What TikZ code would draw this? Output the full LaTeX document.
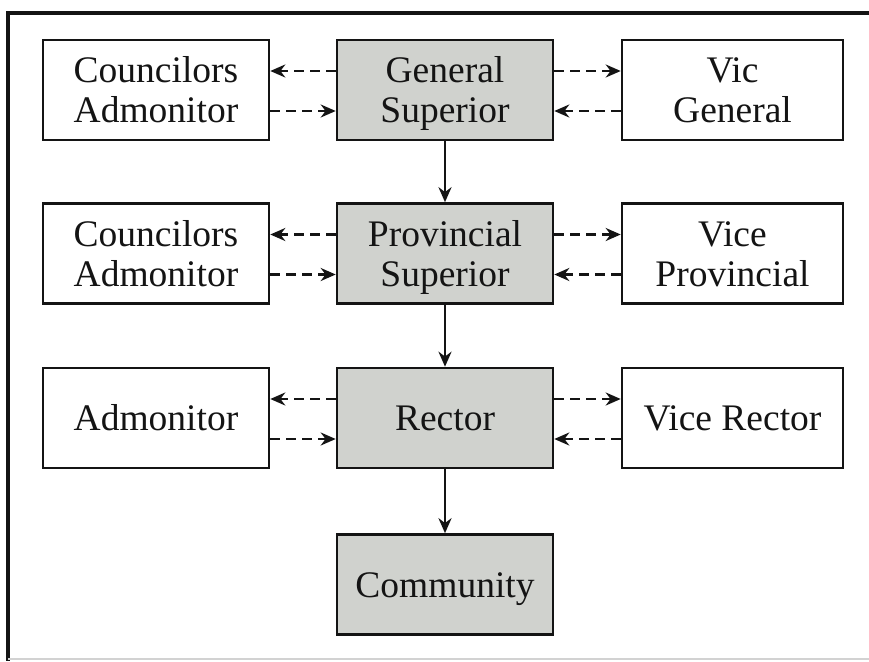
\documentclass[tikz,border=0pt]{standalone}
\usepackage{fontspec}
\setmainfont{Liberation Serif}
\usetikzlibrary{arrows.meta}
\definecolor{boxgray}{RGB}{208,210,206}
\definecolor{ink}{RGB}{20,20,20}
\newcommand{\tallstrut}{\rule{0pt}{37pt}}
\begin{document}
\begin{tikzpicture}[x=1pt,y=-1pt,
  box/.style={draw=ink,line width=2.6pt,rectangle,minimum height=100pt,inner sep=0pt,align=center,
    font=\fontsize{37.5}{40}\selectfont,text=ink},
  side/.style={box,fill=white},
  mid/.style={box,fill=boxgray,minimum width=216pt},
  dasharrow/.style={draw=ink,line width=2.4pt,dash pattern=on 10pt off 6pt,-{Stealth[length=15pt,width=13pt]}},
  downarrow/.style={draw=ink,line width=2.4pt,-{Stealth[length=15pt,width=13pt]}},
  frameline/.style={draw=ink,line width=4.5pt}]
\useasboundingbox (0,0) rectangle (869,661);
\fill[white] (0,0) rectangle (869,661);
% frame
\coordinate (ftl) at (8,13);
\coordinate (ftr) at (869,13);
\coordinate (fbl) at (8,661);
\coordinate (fbr) at (869,659);
\draw[frameline] (ftr) -- (ftl) -- (fbl);
\draw[draw=gray!35,line width=2pt] (8,659) -- (fbr);
% row 1
\node[side,minimum width=226pt] (ca1) at (156,90) {\tallstrut Councilors\\\strut Admonitor};
\node[mid] (gs) at (445,90) {\tallstrut General\\\strut Superior};
\node[side,minimum width=221pt] (vg) at (732.5,90) {\tallstrut Vic\\\strut General};
% row 2
\node[side,minimum width=226pt] (ca2) at (156,253.5) {\tallstrut Councilors\\\strut Admonitor};
\node[mid] (ps) at (445,253.5) {\tallstrut Provincial\\\strut Superior};
\node[side,minimum width=221pt] (vp) at (732.5,253.5) {\tallstrut Vice\\\strut Provincial};
% row 3
\node[side,minimum width=226pt] (ad) at (156,418) {\tallstrut\strut Admonitor};
\node[mid] (rc) at (445,418) {\tallstrut\strut Rector};
\node[side,minimum width=221pt] (vr) at (732.5,418) {\tallstrut\strut Vice Rector};
% row 4
\node[mid] (cm) at (445,584.5) {\tallstrut\strut Community};
% dashed connectors
\foreach \l/\c/\r in {ca1/gs/vg, ca2/ps/vp, ad/rc/vr}{
  \draw[dasharrow] ([yshift=19pt]\c.west) -- ([yshift=19pt]\l.east);
  \draw[dasharrow] ([yshift=-21pt]\l.east) -- ([yshift=-21pt]\c.west);
  \draw[dasharrow] ([yshift=19pt]\c.east) -- ([yshift=19pt]\r.west);
  \draw[dasharrow] ([yshift=-21pt]\r.west) -- ([yshift=-21pt]\c.east);
}
% vertical connectors
\draw[downarrow] (gs.south) -- (ps.north);
\draw[downarrow] (ps.south) -- (rc.north);
\draw[downarrow] (rc.south) -- (cm.north);
\end{tikzpicture}
\end{document}
